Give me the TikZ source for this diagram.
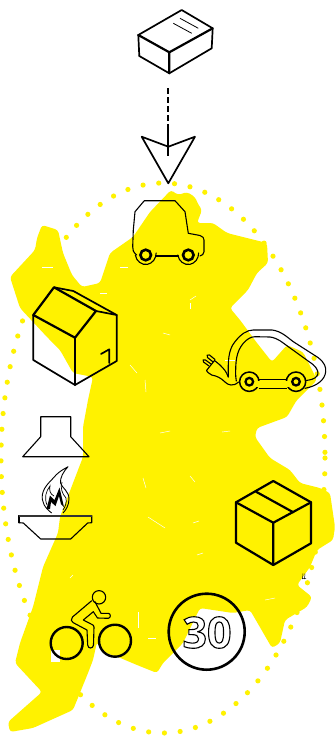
\documentclass[tikz,border=0pt]{standalone}
\usepackage{fontspec}
\setmainfont{Noto Sans}
\newfontfamily\signfont{Open Sans}
\definecolor{blob}{HTML}{FFF200}
\tikzset{
  ink/.style={draw=black,line width=1.7pt,line join=round,line cap=round},
  thin ink/.style={draw=black,line width=1.1pt,line join=round,line cap=round},
  heavy ink/.style={draw=black,line width=2.2pt,line join=round,line cap=round},
  speck/.style={draw=white,line width=0.5pt},
  dots/.style={draw=blob,line width=5.2pt,line cap=round,dash pattern=on 0pt off 15.8pt},
}
\begin{document}
\begin{tikzpicture}[x=1pt,y=-1pt]
\useasboundingbox (0,0) rectangle (336,736);
% dotted ellipse
\draw[dots] (163,458) ellipse [x radius=162,y radius=275];
% yellow blob
\fill[blob,rounded corners=3pt] (171,190) -- (178,195) -- (187,192) -- (195,197) -- (198,204) -- (202,210) -- (197,223) -- (213,223) -- (227,233) -- (247,238) -- (267,243) -- (268,263) -- (257,273) -- (248,290) -- (230,308) -- (240,320) -- (257,343) -- (272,362) -- (287,345) -- (303,352) -- (307,360) -- (317,380) -- (297,400) -- (295,403) -- (287,417) -- (257,428) -- (255,437) -- (270,458) -- (290,470) -- (300,483) -- (320,488) -- (330,493) -- (335,527) -- (333,540) -- (317,550) -- (310,567) -- (297,585) -- (312,597) -- (307,607) -- (285,620) -- (280,643) -- (272,648) -- (250,610) -- (233,613) -- (200,608) -- (183,643) -- (163,663) -- (157,673) -- (137,665) -- (118,657) -- (103,652) -- (97,642) -- (93,660) -- (88,673) -- (73,710) -- (33,728) -- (10,732) -- (8,722) -- (42,692) -- (15,663) -- (20,643) -- (33,607) -- (43,567) -- (58,533) -- (60,517) -- (83,457) -- (83,427) -- (88,400) -- (93,377) -- (73,373) -- (60,350) -- (47,337) -- (20,308) -- (10,277) -- (35,250) -- (37,238) -- (42,225) -- (58,230) -- (63,253) -- (72,275) -- (82,287) -- (100,283) -- (110,253) -- (133,237) -- (150,212) -- cycle;
\fill[white] (51,650) rectangle (60,662);
% specks
\foreach \a/\b/\c/\d in {148/517/165/528, 120/267/128/267, 42/267/53/267, 100/293/107/293, 190/303/190/309, 163/333/170/335, 190/300/196/296, 130/365/137/373, 145/380/146/392, 160/433/170/431, 222/432/230/431, 190/476/195/482, 143/478/146/488, 193/523/199/521, 197/555/203/553, 265/600/275/598, 138/612/138/628, 70/578/73/575, 148/638/156/638, 225/360/235/360}
  \draw[speck] (\a,\b) -- (\c,\d);
% top box
\coordinate (boxa) at (138.3,35);
\coordinate (boxb) at (181.7,10);
\coordinate (boxc) at (212.7,28.3);
\coordinate (boxd) at (169.3,52.3);
\coordinate (boxe) at (139.3,56);
\coordinate (boxf) at (169.3,73.3);
\coordinate (boxg) at (211.7,48.3);
\draw[ink] (boxa) -- (boxb) -- (boxc) (boxe) -- (boxf) -- (boxg) -- (boxc);
\draw[heavy ink] (boxa) -- (boxd) -- (boxc) (boxd) -- (boxf);
\draw[ink] (boxa) -- (boxe);
\draw[draw=black,line width=0.8pt] (173.3,23.3) -- (191.7,33.3) (180,18.3) -- (198.3,28.3);
% flow arrow
\coordinate (flowtop) at (168.3,88);
\coordinate (flowmid) at (168.3,125);
\coordinate (flowend) at (168.3,156);
\draw[draw=black,line width=1.8pt,dash pattern=on 5.5pt off 3.5pt] (flowtop) -- (flowmid);
\draw[ink,fill=white] (141.7,136.7) -- (168.3,146.7) -- (195,136.7) -- (168.3,183.3) -- cycle;
\draw[draw=black,line width=2.2pt] (flowmid) -- (flowend);
% car
\draw[thin ink] (136.7,255) .. controls (133,252) and (132.7,250) .. (132.7,246.7) -- (133.3,230) -- (135,211.7) -- (144.3,200.7) -- (175,200.7) -- (185,211.7) -- (188.3,233.3) -- (200,235.5) .. controls (203,236.5) and (204,238) .. (204,240) -- (204,251.7) .. controls (204,254) and (202,255.5) .. (200,256);
\draw[thin ink] (135.3,255) arc[start angle=190,end angle=360,x radius=10.5,y radius=-11.5];
\draw[thin ink] (177.8,255) arc[start angle=190,end angle=360,x radius=10.5,y radius=-11.5];
\draw[heavy ink] (156.5,256) -- (178,256);
\draw[line width=2.6pt] (145.7,255) circle (5.3) (188.3,255) circle (5.3);
% house
\draw[ink] (33.3,315) -- (33.3,360) -- (75,385) -- (116.7,361) -- (116.7,315) -- (73.3,291) -- (54,287.3);
\draw[heavy ink] (33.3,315) -- (54,287.3) -- (96,311) -- (75,337.7) -- cycle;
\draw[heavy ink] (75,337.7) -- (75,385);
\draw[ink] (96,311) -- (116.7,315);
\draw[ink] (101,354) -- (109.3,349.3) -- (109.3,363);
% e-car
\draw[thin ink] (228.3,377) .. controls (228,362) and (228,350) .. (235,341.7) .. controls (241,334) and (247,330) .. (253.3,330) -- (272,330) .. controls (281,331) and (287,337) .. (293.3,341.7) -- (318,357.5) .. controls (325,363) and (326,367) .. (325.7,371.7) .. controls (325,379) and (318,386) .. (305,388.3);
\draw[thin ink] (235.7,376) .. controls (235.5,362) and (236,352) .. (243.3,343.3) .. controls (247,339) and (251,336.7) .. (255,336.7) -- (270,337) .. controls (278,338) and (283,343) .. (288.3,346.7) -- (313,364.5) .. controls (318,369) and (319,373) .. (317,376) .. controls (315,379) and (310,380) .. (306,380.5);
\draw[draw=black,line width=1.5pt,fill=blob] (249.3,381.7) circle (9.7) (296,381.7) circle (9.7);
\fill[blob] (256,380.6) rectangle (289,387.3);
\draw[draw=black,line width=1.6pt] (258.5,379.6) -- (286.5,379.6);
\draw[draw=black,line width=1.1pt] (258.5,388.3) -- (286.5,388.3);
\draw[line width=2.3pt] (249.3,381.7) circle (3.8) (296,381.7) circle (3.8);
\draw[thin ink] (228.3,377) .. controls (226,371) and (224,369) .. (220,365) -- (214.5,360.5) -- (206.5,370.5) -- (208,372.5) -- (211.7,375) .. controls (217,376) and (221,378) .. (225,382) .. controls (228,385) and (233,387) .. (238.5,382);
\draw[thin ink] (235.7,376) -- (236.3,381);
\draw[thin ink] (209,366) -- (203.5,362) .. controls (201.5,360.5) and (204,358.5) .. (205.5,360) -- (211,364);
\draw[thin ink] (212.5,361.5) -- (207.5,357.5) .. controls (205.5,356) and (208,353.5) .. (209.5,355) -- (215,359.5);
% hood
\draw[thin ink] (40.7,436.7) -- (40.7,416.7) -- (70.7,416.7) -- (70.7,436.7) -- (89,456.7) -- (22.7,456.7) -- cycle;
% flame
\draw[draw=black,line width=0.9pt,line join=round] (51.7,513) .. controls (45,508) and (41,502) .. (42.5,494) .. controls (44,486) and (52,480) .. (56,475) .. controls (60,471) and (64,469) .. (68,466.7) .. controls (63,472) and (60,478) .. (60.5,483) .. controls (62,488) and (69,491) .. (69,499) .. controls (69,505) and (66,510) .. (63,513);
\draw[draw=black,line width=0.7pt] (47,505) .. controls (44,498) and (46,491) .. (50,486) .. controls (49,490) and (50,494) .. (54,496);
\draw[draw=black,line width=0.7pt] (62,482) .. controls (60,487) and (62,494) .. (66,498) .. controls (67,503) and (65,507) .. (63,510);
\fill[black] (46.5,509) -- (50,495.5) -- (54.5,500) -- (59.5,487.5) -- (64,507) -- (61,504) -- (59,496) -- (55.5,506) -- (51,502) -- (50,509) -- cycle;
% bowl
\draw[thin ink] (19,522.7) -- (23.3,523) -- (40.7,539) -- (70.7,539) -- (87.7,523) -- (91.7,522.7) -- (91.7,515.7);
\draw[thin ink] (91.7,515.7) -- (19,515.7) -- (19,522.7);
\draw[draw=black!80,line width=1.6pt] (19,515.7) -- (91.7,515.7);
% right box
\draw[heavy ink] (236,502.3) -- (273.3,481) -- (311,502.3) -- (311,543.3) -- (273.3,565) -- (236,542.7) -- cycle;
\draw[heavy ink] (236,502.3) -- (273.3,522.7) -- (311,502.3) (273.3,522.7) -- (273.3,565);
\draw[heavy ink] (256,491.7) -- (293.3,512.3);
% tiny mark
\draw[draw=black,line width=0.5pt] (302.5,579) -- (303,573.5) (304.5,579) -- (305,573.5) (302,578.5) -- (306,578.5);
% bicycle
\draw[draw=black,line width=2.4pt] (66.7,643) circle (16) (115,640.7) circle (16);
\draw[thin ink] (99,597.3) circle (6.7);
\draw[thin ink] (91.7,600.7) -- (72.5,617) .. controls (70.5,619) and (71,622) .. (73.3,622.7) -- (87,630) -- (87.7,645) .. controls (88,649) and (93,649) .. (93.5,645) -- (94,627) .. controls (94,625.5) and (93,625) .. (92,624.5) -- (83.3,620) -- (93.3,611.7) -- (97.5,618) -- (108.3,618.3) .. controls (111,618) and (111,613.5) .. (108.3,613.3) -- (101,613.3) -- (95,601.7);
% speed sign
\draw[draw=black,line width=2.6pt] (206.7,631.7) circle (38);
\node (speed) at (207,632.5) {\signfont\bfseries\fontsize{43}{43}\selectfont\special{pdf:code q 2 Tr 1.1 w 0 0 0 RG 1 1 1 rg}30\special{pdf:code Q}};
\end{tikzpicture}
\end{document}
